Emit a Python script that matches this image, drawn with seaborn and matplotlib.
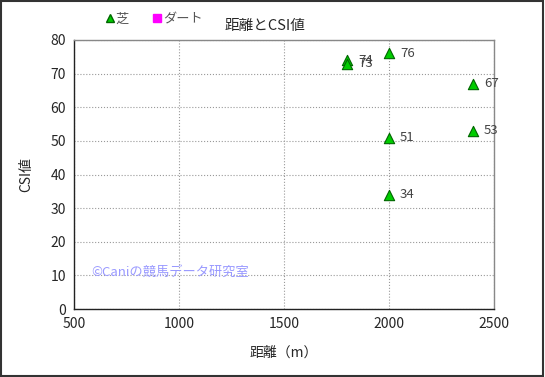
import pandas as pd
import matplotlib
matplotlib.use("Agg")
import matplotlib.pyplot as plt
from matplotlib.lines import Line2D
import seaborn as sns

# 芝 series (ダート has no points)
distance = [1800, 1800, 2000, 2000, 2000, 2400, 2400]
csi = [74, 73, 76, 51, 34, 67, 53]
surface = ["芝"] * len(distance)

df = pd.DataFrame({"距離": distance, "CSI": csi, "馬場": surface})

sns.set_style("white")
plt.rcParams['font.family'] = ['Noto Sans CJK JP', 'DejaVu Sans']

fig = plt.figure(figsize=(5.45, 3.77), dpi=100)
ax = fig.add_axes([0.136, 0.180, 0.770, 0.714])

sns.scatterplot(data=df, x="距離", y="CSI", marker="^", s=55,
                color="#00cc00", edgecolor="#006600", linewidth=0.8,
                legend=False, ax=ax, zorder=3)

for x, y in zip(distance, csi):
    ax.annotate(str(y), (x, y), xytext=(8, 0), textcoords="offset points",
                fontsize=9.5, color="#444444", va="center", ha="left")

ax.set_xlim(500, 2500)
ax.set_ylim(0, 80)
ax.set_xticks(range(500, 2501, 500))
ax.set_yticks(range(0, 81, 10))
ax.tick_params(labelsize=10, length=0, pad=6)
ax.grid(True, color="#999999", linestyle=":", linewidth=0.8)
ax.set_axisbelow(True)
for side in ["top", "right"]:
    ax.spines[side].set_color("#888888")
    ax.spines[side].set_linewidth(1.0)
for side in ["left", "bottom"]:
    ax.spines[side].set_color("#222222")
    ax.spines[side].set_linewidth(1.0)

ax.set_xlabel("距離（m）", fontsize=10, labelpad=10)
ax.set_ylabel("CSI値", fontsize=10, labelpad=12)

fig.text(0.487, 0.932, "距離とCSI値", ha="center", va="center", fontsize=10.5)

ax.text(0.04, 0.135, "©Caniの競馬データ研究室", transform=ax.transAxes,
        color="#9999ff", fontsize=9.5, va="center", ha="left")

handles = [
    Line2D([], [], marker="^", linestyle="", color="#00cc00",
           markeredgecolor="#006600", markersize=6, label="芝"),
    Line2D([], [], marker="s", linestyle="", color="#ff00ff",
           markeredgecolor="#ff00ff", markersize=6, label="ダート"),
]
fig.legend(handles=handles, loc="center left", bbox_to_anchor=(0.175, 0.948),
           ncol=2, frameon=False, fontsize=9.5, handletextpad=-0.2,
           handlelength=1.2, columnspacing=1.6, borderpad=0, labelcolor="#555555")

fig.patches.append(plt.Rectangle((0.002, 0.003), 0.995, 0.994, transform=fig.transFigure,
                                 fill=False, edgecolor="#333333", linewidth=1.5))

fig.savefig("out.png", dpi=100)
